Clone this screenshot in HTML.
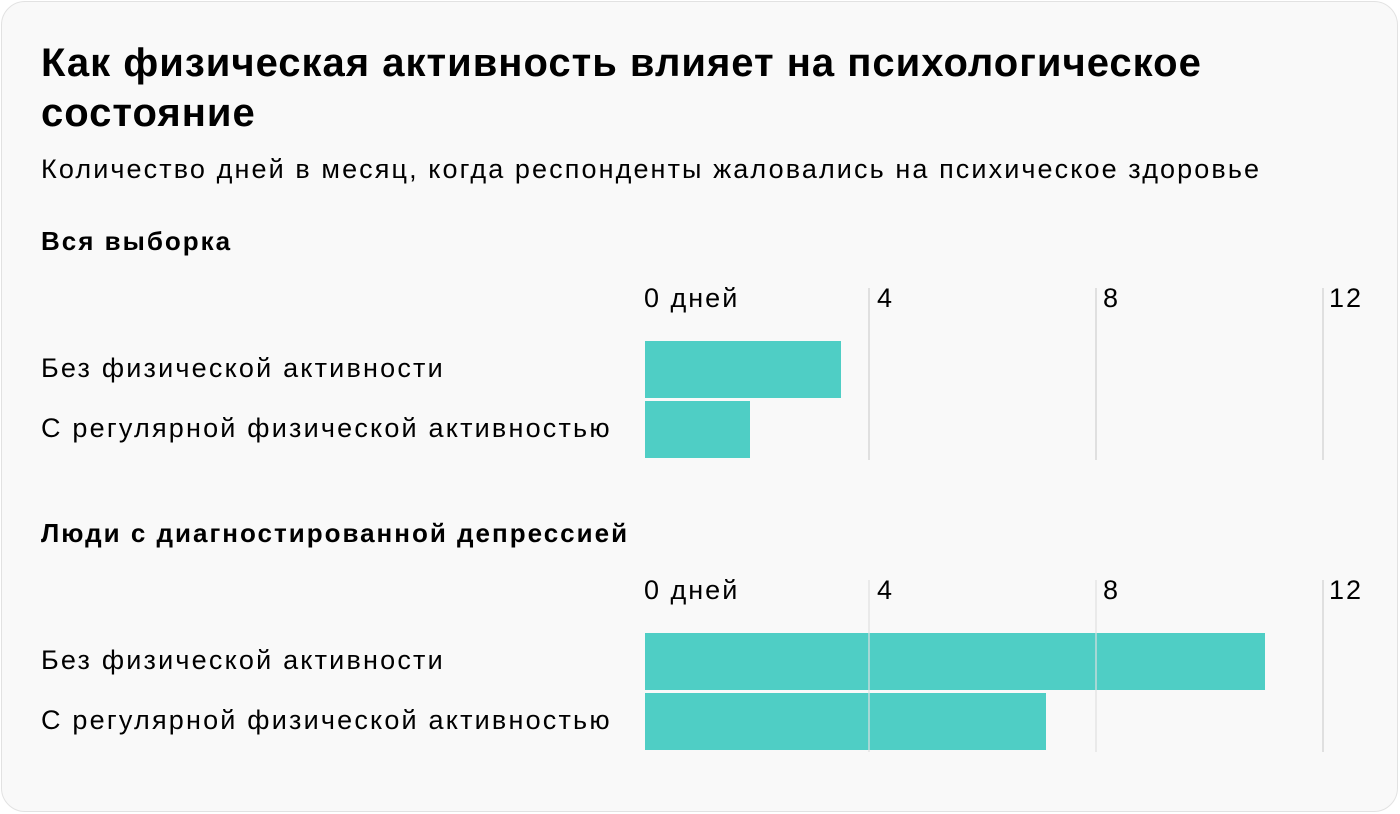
<!DOCTYPE html>
<html><head><meta charset="utf-8"><style>
body{margin:0;width:1400px;height:814px;background:#fff;font-family:"Liberation Sans",sans-serif;color:#000;}
.card{position:absolute;left:1px;top:1px;width:1395px;height:809px;background:#f9f9f9;border:1px solid #e2e2e2;border-radius:24px;}
.t{position:absolute;white-space:nowrap;}
.g{position:absolute;width:2px;background:#e0e0e0;}
.b{position:absolute;left:645px;background:#4fcec5;height:57px;}
.tk{font-size:27px;letter-spacing:2px;}
.rl{font-size:27px;letter-spacing:2.2px;}
.sh{font-size:26px;font-weight:bold;letter-spacing:2px;}
</style></head><body>
<div class="card"></div>
<div class="t" style="left:41px;top:38px;font-size:40px;font-weight:bold;line-height:50px;letter-spacing:1px;">Как физическая активность влияет на психологическое<br>состояние</div>
<div class="t" style="left:41px;top:154px;font-size:27px;letter-spacing:2.1px;">Количество дней в месяц, когда респонденты жаловались на психическое здоровье</div>
<div class="t sh" style="left:41px;top:226px;">Вся выборка</div>
<div class="t sh" style="left:41px;top:518px;">Люди с диагностированной депрессией</div>

<div class="g" style="left:868px;top:288px;height:172px"></div>
<div class="g" style="left:1095px;top:288px;height:172px"></div>
<div class="g" style="left:1322px;top:288px;height:172px"></div>
<div class="t tk" style="left:644px;top:283px;">0 дней</div>
<div class="t tk" style="left:877px;top:283px;">4</div>
<div class="t tk" style="left:1103px;top:283px;">8</div>
<div class="t tk" style="left:1329px;top:283px;">12</div>
<div class="b" style="top:341px;width:196px"></div>
<div class="b" style="top:401px;width:105px"></div>
<div class="t rl" style="left:41px;top:353px;">Без физической активности</div>
<div class="t rl" style="left:41px;top:413px;">С регулярной физической активностью</div>

<div class="b" style="top:633px;width:620px"></div>
<div class="b" style="top:693px;width:401px"></div>
<div class="g" style="left:868px;top:580px;height:172px;opacity:.6"></div>
<div class="g" style="left:1095px;top:580px;height:172px;opacity:.6"></div>
<div class="g" style="left:1322px;top:580px;height:172px"></div>
<div class="t tk" style="left:644px;top:575px;">0 дней</div>
<div class="t tk" style="left:877px;top:575px;">4</div>
<div class="t tk" style="left:1103px;top:575px;">8</div>
<div class="t tk" style="left:1329px;top:575px;">12</div>
<div class="t rl" style="left:41px;top:645px;">Без физической активности</div>
<div class="t rl" style="left:41px;top:705px;">С регулярной физической активностью</div>
</body></html>
